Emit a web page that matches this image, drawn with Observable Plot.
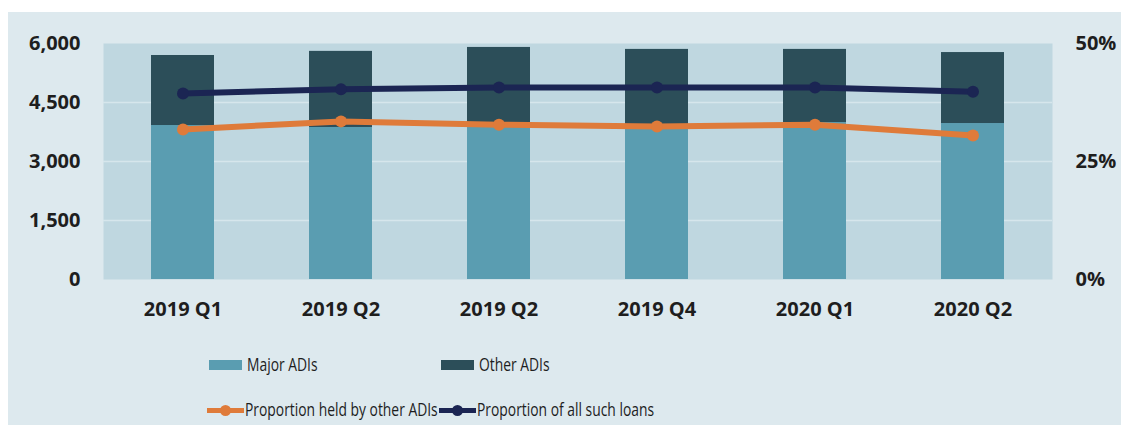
<!DOCTYPE html>
<html><head><meta charset="utf-8">
<script src="https://cdn.jsdelivr.net/npm/d3@7"></script>
<script src="https://cdn.jsdelivr.net/npm/@observablehq/plot@0.6"></script>
<style>
html,body{margin:0;padding:0;background:#fff;width:1133px;height:436px;overflow:hidden;position:relative;}
#panel{position:absolute;left:8px;top:12px;width:1113px;height:413px;background:#dde9ee;}
#chart{position:absolute;left:0;top:0;}
.lg{position:absolute;font-family:"Open Sans",sans-serif;font-size:18px;color:#1e1e1e;white-space:nowrap;transform-origin:left center;transform:scaleX(0.77);line-height:22px;}
.sw{position:absolute;}
</style></head>
<body>
<div id="panel"></div>
<div id="chart"></div>
<div id="legend"></div>
<script>
const categories = ["2019 Q1","2019 Q2","2019 Q2","2019 Q4","2020 Q1","2020 Q2"];
const majorADIs = [3915, 3865, 3880, 3920, 3990, 3965];
const otherADIs = [1780, 1935, 2020, 1930, 1860, 1805];
const propOther = [31.8, 33.5, 32.8, 32.4, 32.8, 30.5];
const propAll   = [39.4, 40.3, 40.7, 40.7, 40.7, 39.8];
const leftTicks = [0, 1500, 3000, 4500, 6000];
const rightTicks = [0, 25, 50];
const seriesNames = ["Major ADIs", "Other ADIs", "Proportion held by other ADIs", "Proportion of all such loans"];
const colors = ["#5a9db1", "#2c4e59", "#df7b3a", "#1b2553"];

const yMax = 6000, pMax = 50, k = yMax / pMax;
const idx = d3.range(categories.length);
const bars = idx.flatMap(i => [
  {i, series: seriesNames[0], value: majorADIs[i]},
  {i, series: seriesNames[1], value: otherADIs[i]}
]);
const lines = idx.flatMap(i => [
  {i, series: seriesNames[2], pct: propOther[i]},
  {i, series: seriesNames[3], pct: propAll[i]}
]);

const font = {fontFamily: "Open Sans, sans-serif"};
const chart = Plot.plot({
  width: 1133, height: 330,
  marginLeft: 103, marginRight: 81, marginTop: 43, marginBottom: 51,
  style: {background: "transparent", color: "#1e1e1e", fontFamily: "Open Sans, sans-serif"},
  x: {type: "band", domain: idx, paddingInner: 0.6, paddingOuter: 0.3, axis: null},
  y: {domain: [0, yMax], axis: null},
  color: {domain: seriesNames, range: colors},
  marks: [
    Plot.frame({fill: "#bfd7e0", stroke: null}),
    Plot.gridY([1500, 3000, 4500], {stroke: "#d6e6ec", strokeOpacity: 1, strokeWidth: 1.5}),
    Plot.barY(bars, {x: "i", y: "value", fill: "series", order: seriesNames}),
    Plot.line(lines, {x: "i", y: d => d.pct * k, z: "series", stroke: "series", strokeWidth: 6, curve: "linear"}),
    Plot.dot(lines, {x: "i", y: d => d.pct * k, fill: "series", r: 6}),
    Plot.axisX({domain: idx, label: null, tickSize: 0, tickPadding: 22, tickFormat: i => categories[i], fontSize: 20, fontWeight: "bold", ...font}),
    Plot.axisY(leftTicks, {anchor: "left", label: null, tickSize: 0, tickPadding: 23, tickFormat: d3.format(","), fontSize: 20, fontWeight: "bold", ...font}),
    Plot.axisY(rightTicks.map(p => p * k), {anchor: "right", label: null, tickSize: 0, tickPadding: 23, tickFormat: d => (d / k) + "%", fontSize: 20, fontWeight: "bold", ...font})
  ]
});
document.getElementById("chart").appendChild(chart);

// legend
const lg = document.getElementById("legend");
function add(html){ lg.insertAdjacentHTML("beforeend", html); }
const legendItems = [
  {name: seriesNames[0], color: colors[0], kind: "rect", x: 209, y: 365},
  {name: seriesNames[1], color: colors[1], kind: "rect", x: 441, y: 365},
  {name: seriesNames[2], color: colors[2], kind: "line", x: 207, y: 410},
  {name: seriesNames[3], color: colors[3], kind: "line", x: 439, y: 410}
];
for (const it of legendItems) {
  if (it.kind === "rect") {
    add(`<div class="sw" style="left:${it.x}px;top:${it.y-5}px;width:33px;height:10px;background:${it.color}"></div>`);
  } else {
    add(`<div class="sw" style="left:${it.x}px;top:${it.y-2.5}px;width:37px;height:5px;background:${it.color}"></div>`);
    add(`<div class="sw" style="left:${it.x+13}px;top:${it.y-5.5}px;width:11px;height:11px;border-radius:50%;background:${it.color}"></div>`);
  }
  add(`<div class="lg" style="left:${it.x+38}px;top:${it.y-12}px">${it.name}</div>`);
}
</script>
</body></html>
